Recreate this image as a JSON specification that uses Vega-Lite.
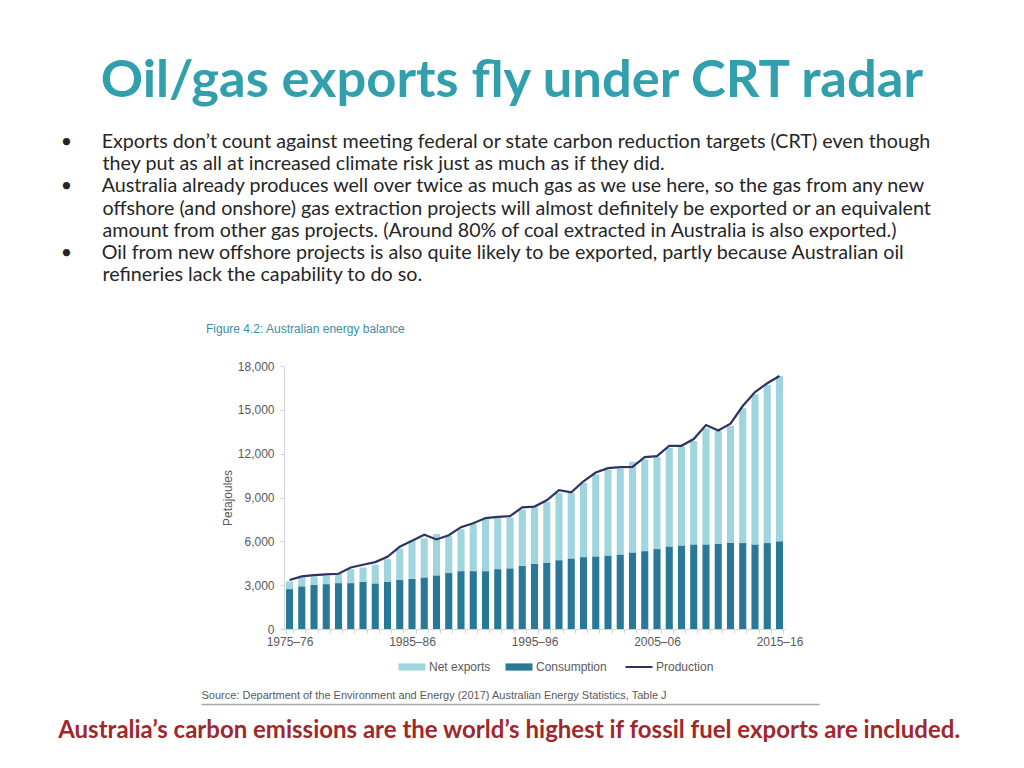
{
  "$schema": "https://vega.github.io/schema/vega-lite/v6.json",
  "background": "white",
  "padding": {"left": 57, "top": 54, "right": 10, "bottom": 10},
  "datasets": {
    "energy": [
      {"year":"1975–76","Consumption":2730,"Net exports":530,"Production":3350},
      {"year":"1976–77","Consumption":2920,"Net exports":610,"Production":3600},
      {"year":"1977–78","Consumption":3030,"Net exports":570,"Production":3690},
      {"year":"1978–79","Consumption":3070,"Net exports":570,"Production":3740},
      {"year":"1979–80","Consumption":3140,"Net exports":620,"Production":3780},
      {"year":"1980–81","Consumption":3140,"Net exports":960,"Production":4210},
      {"year":"1981–82","Consumption":3230,"Net exports":980,"Production":4400},
      {"year":"1982–83","Consumption":3120,"Net exports":1280,"Production":4580},
      {"year":"1983–84","Consumption":3230,"Net exports":1550,"Production":4940},
      {"year":"1984–85","Consumption":3350,"Net exports":2160,"Production":5630},
      {"year":"1985–86","Consumption":3440,"Net exports":2600,"Production":6040},
      {"year":"1986–87","Consumption":3530,"Net exports":2670,"Production":6450},
      {"year":"1987–88","Consumption":3670,"Net exports":2820,"Production":6130},
      {"year":"1988–89","Consumption":3830,"Net exports":2550,"Production":6420},
      {"year":"1989–90","Consumption":3960,"Net exports":2870,"Production":6970},
      {"year":"1990–91","Consumption":3960,"Net exports":3220,"Production":7240},
      {"year":"1991–92","Consumption":3960,"Net exports":3560,"Production":7590},
      {"year":"1992–93","Consumption":4100,"Net exports":3490,"Production":7680},
      {"year":"1993–94","Consumption":4150,"Net exports":3470,"Production":7720},
      {"year":"1994–95","Consumption":4320,"Net exports":3850,"Production":8330},
      {"year":"1995–96","Consumption":4460,"Net exports":3870,"Production":8380},
      {"year":"1996–97","Consumption":4550,"Net exports":4150,"Production":8810},
      {"year":"1997–98","Consumption":4710,"Net exports":4600,"Production":9500},
      {"year":"1998–99","Consumption":4830,"Net exports":4510,"Production":9360},
      {"year":"1999–00","Consumption":4920,"Net exports":5080,"Production":10110},
      {"year":"2000–01","Consumption":4970,"Net exports":5600,"Production":10710},
      {"year":"2001–02","Consumption":5030,"Net exports":5860,"Production":11010},
      {"year":"2002–03","Consumption":5100,"Net exports":5880,"Production":11080},
      {"year":"2003–04","Consumption":5240,"Net exports":6200,"Production":11100},
      {"year":"2004–05","Consumption":5330,"Net exports":6270,"Production":11760},
      {"year":"2005–06","Consumption":5470,"Net exports":6290,"Production":11830},
      {"year":"2006–07","Consumption":5650,"Net exports":6750,"Production":12540},
      {"year":"2007–08","Consumption":5720,"Net exports":6750,"Production":12540},
      {"year":"2008–09","Consumption":5790,"Net exports":7070,"Production":13000},
      {"year":"2009–10","Consumption":5790,"Net exports":7940,"Production":13960},
      {"year":"2010–11","Consumption":5840,"Net exports":7710,"Production":13590},
      {"year":"2011–12","Consumption":5880,"Net exports":8010,"Production":14050},
      {"year":"2012–13","Consumption":5880,"Net exports":9220,"Production":15260},
      {"year":"2013–14","Consumption":5790,"Net exports":10270,"Production":16220},
      {"year":"2014–15","Consumption":5880,"Net exports":10820,"Production":16820},
      {"year":"2015–16","Consumption":6000,"Net exports":11320,"Production":17320}
    ]
  },
  "title": {
    "text": "Oil/gas exports fly under CRT radar",
    "anchor": "start",
    "dx": 43,
    "font": "Lato",
    "fontSize": 52.5,
    "fontWeight": "bold",
    "color": "#31A0AC",
    "offset": 24
  },
  "vconcat": [
    {
      "title": {
        "text": [
          "•\u2003\u2003Exports don’t count against meeting federal or state carbon reduction targets (CRT) even though",
          "\u200B\u2003\u2003\u2002\u2009they put as all at increased climate risk just as much as if they did.",
          "•\u2003\u2003Australia already produces well over twice as much gas as we use here, so the gas from any new",
          "\u200B\u2003\u2003\u2002\u2009offshore (and onshore) gas extraction projects will almost definitely be exported or an equivalent",
          "\u200B\u2003\u2003\u2002\u2009amount from other gas projects. (Around 80% of coal extracted in Australia is also exported.)",
          "•\u2003\u2003Oil from new offshore projects is also quite likely to be exported, partly because Australian oil",
          "\u200B\u2003\u2003\u2002\u2009refineries lack the capability to do so."
        ],
        "anchor": "start",
        "dx": 3,
        "font": "Lato",
        "fontSize": 19.7,
        "fontWeight": "normal",
        "color": "#262626",
        "lineHeight": 22.2,
        "offset": 38
      },
      "vconcat": [
        {
          "title": {
            "text": "Australia’s carbon emissions are the world’s highest if fossil fuel exports are included.",
            "orient": "bottom",
            "anchor": "middle",
            "dx": -41,
            "font": "Lato",
            "fontSize": 24,
            "fontWeight": "bold",
            "color": "#A0282C",
            "offset": 12
          },
          "columns": 1,
          "align": "none",
          "spacing": 16,
          "resolve": {"scale": {"color": "independent"}, "legend": {"color": "independent"}},
          "concat": [
            {
              "width": 501,
              "height": 263,
              "title": {
                "text": "Figure 4.2: Australian energy balance",
                "anchor": "start",
                "frame": "group",
                "dx": -78,
                "offset": 24,
                "font": "Liberation Sans",
                "fontSize": 12,
                "fontWeight": "normal",
                "color": "#3B8EA5"
              },
              "data": {"name": "energy"},
              "encoding": {
                "x": {
                  "field": "year",
                  "type": "ordinal",
                  "scale": {"paddingInner": 0.42, "paddingOuter": 0.16},
                  "axis": {
                    "title": null,
                    "labelExpr": "indexof(['1975–76','1985–86','1995–96','2005–06','2015–16'], datum.value) >= 0 ? datum.value : ''",
                    "labelAngle": 0,
                    "labelOverlap": false,
                    "labelFont": "Liberation Sans",
                    "labelFontSize": 12,
                    "labelColor": "#595959",
                    "labelPadding": 3,
                    "tickBand": "extent",
                    "tickSize": 4,
                    "tickColor": "#d4d4d4",
                    "domainColor": "#d4d4d4"
                  }
                }
              },
              "layer": [
                {
                  "transform": [{"fold": ["Consumption", "Net exports"], "as": ["series", "value"]}],
                  "mark": {"type": "bar"},
                  "encoding": {
                    "y": {
                      "field": "value",
                      "type": "quantitative",
                      "stack": "zero",
                      "scale": {"domain": [0, 18000]},
                      "axis": {
                        "title": "Petajoules",
                        "values": [0, 3000, 6000, 9000, 12000, 15000, 18000],
                        "labelExpr": "format(datum.value, ',')",
                        "grid": false,
                        "domainColor": "#d4d4d4",
                        "tickColor": "#d4d4d4",
                        "tickSize": 4,
                        "labelPadding": 6,
                        "labelFont": "Liberation Sans",
                        "labelFontSize": 12,
                        "labelColor": "#595959",
                        "titleFont": "Liberation Sans",
                        "titleFontSize": 12,
                        "titleFontWeight": "normal",
                        "titleColor": "#595959",
                        "titlePadding": 3
                      }
                    },
                    "color": {
                      "field": "series",
                      "type": "nominal",
                      "scale": {
                        "domain": ["Net exports", "Consumption", "Production"],
                        "range": ["#9FD6DD", "#2A7897", "#2E3461"]
                      },
                      "legend": {
                        "orient": "none",
                        "legendX": 122,
                        "legendY": 295,
                        "direction": "horizontal",
                        "title": null,
                        "labelFont": "Liberation Sans",
                        "labelFontSize": 12,
                        "labelColor": "#595959",
                        "symbolSize": 324,
                        "labelOffset": 11,
                        "columnPadding": 14,
                        "encode": {
                          "symbols": {
                            "update": {
                              "shape": {"signal": "datum.value === 'Production' ? 'M-1.5,0H1.5' : 'M-1.5,-0.4H1.5V0.4H-1.5Z'"},
                              "fill": {"signal": "datum.value === 'Production' ? 'transparent' : (datum.value === 'Net exports' ? '#9FD6DD' : '#2A7897')"},
                              "stroke": {"signal": "datum.value === 'Production' ? '#2E3461' : 'transparent'"},
                              "strokeWidth": {"signal": "datum.value === 'Production' ? 2 : 0"},
                              "opacity": {"value": 1}
                            }
                          }
                        }
                      }
                    },
                    "order": {"field": "series", "sort": "ascending"}
                  }
                },
                {
                  "mark": {"type": "line", "strokeWidth": 2.2},
                  "encoding": {
                    "y": {
                      "field": "Production",
                      "type": "quantitative",
                      "axis": {
                        "title": "Petajoules",
                        "values": [0, 3000, 6000, 9000, 12000, 15000, 18000],
                        "labelExpr": "format(datum.value, ',')",
                        "grid": false
                      }
                    },
                    "color": {"datum": "Production"}
                  }
                }
              ]
            },
            {
              "width": 535,
              "height": 1,
              "data": {"values": [{"v": 0}]},
              "mark": {"type": "point", "opacity": 0},
              "encoding": {
                "x": {
                  "field": "v",
                  "type": "quantitative",
                  "scale": {"domain": [0, 1], "range": [-83, 535]},
                  "axis": {
                    "orient": "top",
                    "title": "Source: Department of the Environment and Energy (2017) Australian Energy Statistics, Table J",
                    "titleAnchor": "start",
                    "titleFont": "Liberation Sans",
                    "titleFontSize": 11,
                    "titleFontWeight": "normal",
                    "titleColor": "#595959",
                    "titlePadding": 4,
                    "labels": false,
                    "ticks": false,
                    "grid": false,
                    "domainColor": "#a6a6a6",
                    "domainWidth": 1.5
                  }
                }
              }
            }
          ]
        }
      ]
    }
  ],
  "config": {
    "view": {"stroke": null}
  }
}
